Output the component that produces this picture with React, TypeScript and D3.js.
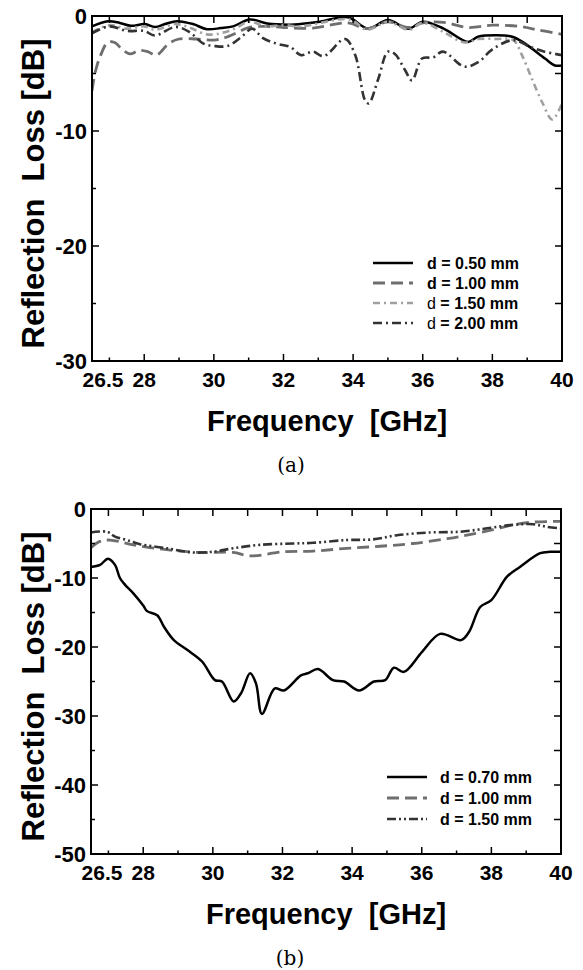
import React from "react";
import * as d3 from "d3";

// ---------- Panel (a) data ----------
const aF050 = [26.5, 26.96, 27.3, 27.62, 28.02, 28.31, 28.6, 28.94, 29.4, 29.8, 30.2, 30.55, 31.04, 31.53, 32.19, 32.48, 33.05, 33.85, 34.43, 35.0, 35.58, 36.01, 36.6, 37.3, 37.59, 38.08, 38.57, 38.94, 39.51, 39.8, 40];
const aV050 = [-0.9, -0.45, -0.6, -0.85, -0.7, -0.95, -0.7, -0.45, -0.7, -1.15, -1.05, -0.9, -0.3, -0.65, -0.75, -0.7, -0.5, -0.1, -1.1, -0.35, -1.1, -0.5, -1.1, -2.25, -1.8, -1.68, -1.8, -2.4, -3.7, -4.3, -4.3];

const aF100 = [26.5, 26.6, 26.75, 26.95, 27.15, 27.4, 27.6, 27.85, 28.1, 28.35, 28.7, 29.0, 29.5, 30.0, 30.3, 30.7, 31.0, 31.5, 32.0, 32.85, 33.85, 34.4, 35.0, 35.6, 36.0, 36.6, 37.3, 38.0, 38.75, 39.3, 40];
const aV100 = [-6.5, -4.8, -3.4, -2.3, -2.3, -3.0, -3.3, -3.0, -3.1, -3.4, -2.4, -2.0, -2.0, -2.1, -1.9, -1.4, -1.0, -0.9, -1.0, -1.05, -0.6, -1.1, -0.5, -1.0, -0.6, -0.55, -1.0, -0.8, -0.9, -1.2, -1.6];

const aF150 = [26.5, 27.0, 27.5, 28.0, 28.3, 28.9, 29.3, 29.8, 30.2, 30.6, 31.0, 31.5, 32.0, 32.5, 33.9, 34.4, 35.0, 35.6, 36.0, 36.6, 37.2, 37.6, 38.1, 38.6, 38.85, 39.14, 39.43, 39.72, 40];
const aV150 = [-1.4, -0.8, -1.1, -0.9, -1.2, -0.7, -1.0, -1.6, -1.5, -1.1, -0.5, -0.9, -0.8, -0.9, -0.3, -1.2, -0.5, -1.2, -0.6, -1.4, -2.3, -2.0, -2.0, -2.1, -3.4, -5.5, -7.5, -9.0, -7.6];

const aF200 = [26.5, 27.0, 27.5, 28.0, 28.3, 28.9, 29.3, 29.7, 30.0, 30.4, 30.8, 31.1, 31.4, 31.8, 32.2, 32.5, 32.85, 33.15, 33.77, 34.06, 34.34, 34.45, 34.72, 35.0, 35.2, 35.49, 35.69, 35.98, 36.3, 36.58, 37.2, 37.6, 38.0, 38.6, 39.1, 39.5, 40];
const aV200 = [-1.5, -0.9, -1.3, -1.3, -1.7, -0.95, -1.4, -2.4, -2.6, -2.6, -1.8, -1.1, -1.9, -2.4, -2.7, -3.4, -3.1, -3.5, -2.0, -3.4, -7.3, -7.6, -5.5, -3.1, -3.3, -4.7, -5.6, -3.7, -3.6, -3.1, -4.4, -4.0, -2.9, -2.1, -2.7, -3.1, -3.4];

// ---------- Panel (b) data ----------
const bF070 = [26.5, 26.76, 26.99, 27.19, 27.33, 27.48, 27.71, 28.0, 28.11, 28.4, 28.6, 28.88, 29.26, 29.69, 30.06, 30.26, 30.6, 30.81, 31.07, 31.24, 31.41, 31.78, 32.04, 32.53, 32.73, 33.02, 33.45, 33.77, 34.2, 34.63, 34.95, 35.2, 35.49, 36.01, 36.53, 37.13, 37.36, 37.68, 38.0, 38.45, 38.82, 39.4, 39.69, 40];
const bV070 = [-8.4, -8.1, -7.2, -8.1, -10.0, -11.0, -12.2, -14.0, -14.8, -15.4, -17.1, -19.0, -20.4, -22.1, -24.8, -25.0, -27.9, -26.7, -23.8, -25.3, -29.7, -26.0, -26.3, -24.1, -23.8, -23.2, -24.8, -25.0, -26.3, -25.0, -24.8, -23.0, -23.6, -20.7, -18.1, -19.0, -17.8, -14.2, -13.2, -9.8, -8.4, -6.4, -6.2, -6.2];

const bF100 = [26.5, 26.76, 27.05, 27.71, 28.68, 29.63, 30.58, 31.07, 32.02, 32.88, 33.85, 34.8, 35.75, 36.73, 37.3, 38.05, 38.62, 39.2, 40];
const bV100 = [-5.6, -4.7, -4.5, -5.2, -5.9, -6.3, -6.3, -6.8, -6.2, -6.1, -5.7, -5.4, -5.0, -4.3, -3.8, -3.0, -2.3, -1.9, -1.8];

const bF150 = [26.5, 26.96, 27.19, 27.53, 27.91, 28.68, 29.43, 30.0, 30.58, 31.35, 32.3, 32.88, 33.85, 34.6, 35.29, 36.24, 37.1, 37.88, 38.62, 39.2, 39.6, 40];
const bV150 = [-3.4, -3.3, -4.0, -4.5, -5.1, -5.7, -6.3, -6.2, -5.7, -5.2, -5.0, -4.9, -4.5, -4.4, -3.8, -3.4, -3.3, -2.8, -2.3, -2.2, -2.6, -2.8];

// ---------- Axis ticks ----------
const xTickVals = [27, 28, 29, 30, 31, 32, 33, 34, 35, 36, 37, 38, 39, 40];
const xLabelVals = [28, 30, 32, 34, 36, 38, 40];
const xStartLabel = "26.5";
const aYTicks = [0, -5, -10, -15, -20, -25, -30];
const aYLabels = [0, -10, -20, -30];
const bYTicks = [0, -5, -10, -15, -20, -25, -30, -35, -40, -45, -50];
const bYLabels = [0, -10, -20, -30, -40, -50];

const FONT = "'Liberation Sans', Arial, sans-serif";

type Series = {
  f: number[];
  v: number[];
  color: string;
  dash: string;
  width: number;
  label: string;
  dRegular?: boolean;
};

type PanelProps = {
  id: string;
  x0: number;
  x1: number;
  y0: number;
  y1: number;
  yMin: number;
  yTicks: number[];
  yLabels: number[];
  series: Series[];
  legLine: [number, number];
  legText: number;
  legRows: number[];
  tag: string;
};

function Panel(p: PanelProps) {
  const xs = d3.scaleLinear().domain([26.5, 40]).range([p.x0, p.x1]);
  const ys = d3.scaleLinear().domain([p.yMin, 0]).range([p.y1, p.y0]);
  const cx = (p.x0 + p.x1) / 2;
  const cy = (p.y0 + p.y1) / 2;
  return (
    <g>
      <defs>
        <clipPath id={p.id}>
          <rect x={p.x0} y={p.y0} width={p.x1 - p.x0} height={p.y1 - p.y0} />
        </clipPath>
      </defs>
      <g clipPath={`url(#${p.id})`}>
        {p.series.map((s, k) => {
          const line = d3
            .line<number>()
            .x((_, i) => xs(s.f[i]))
            .y((d) => ys(d))
            .curve(d3.curveCatmullRom.alpha(0.5));
          return (
            <path
              key={k}
              d={line(s.v) || ""}
              fill="none"
              stroke={s.color}
              strokeWidth={s.width}
              strokeDasharray={s.dash}
              strokeLinejoin="round"
            />
          );
        })}
      </g>
      <rect x={p.x0} y={p.y0} width={p.x1 - p.x0} height={p.y1 - p.y0} fill="none" stroke="#000" strokeWidth={2} />
      {xTickVals.map((t) => {
        const major = t % 2 === 0;
        return (
          <g key={"xt" + t}>
            <line x1={xs(t)} x2={xs(t)} y1={p.y1} y2={p.y1 - (major ? 7 : 3.5)} stroke="#000" strokeWidth={1.5} />
            <line x1={xs(t)} x2={xs(t)} y1={p.y0} y2={p.y0 + 7} stroke="#000" strokeWidth={1.5} />
          </g>
        );
      })}
      {xLabelVals.map((t) => (
        <text key={"xl" + t} x={xs(t)} y={p.y1 + 26} textAnchor="middle" fontFamily={FONT} fontWeight="bold" fontSize={21}>
          {t}
        </text>
      ))}
      <text x={xs(26.5) + 11} y={p.y1 + 26} textAnchor="middle" fontFamily={FONT} fontWeight="bold" fontSize={21}>
        {xStartLabel}
      </text>
      {p.yTicks.map((t) => {
        const major = t % 10 === 0;
        return (
          <g key={"yt" + t}>
            <line x1={p.x0} x2={p.x0 + (major ? 7 : 4)} y1={ys(t)} y2={ys(t)} stroke="#000" strokeWidth={1.5} />
            <line x1={p.x1} x2={p.x1 - 7} y1={ys(t)} y2={ys(t)} stroke="#000" strokeWidth={1.5} />
          </g>
        );
      })}
      {p.yLabels.map((t) => (
        <text key={"yl" + t} x={p.x0 - 5} y={ys(t) + 8} textAnchor="end" fontFamily={FONT} fontWeight="bold" fontSize={22}>
          {t}
        </text>
      ))}
      <text
        transform={`translate(44,${cy + 5}) rotate(-90)`}
        textAnchor="middle"
        fontFamily={FONT}
        fontWeight="bold"
        fontSize={31}
        style={{ whiteSpace: "pre" }}
      >
        {"Reflection  Loss [dB]"}
      </text>
      <text x={cx} y={p.y1 + 70} textAnchor="middle" fontFamily={FONT} fontWeight="bold" fontSize={29} style={{ whiteSpace: "pre" }}>
        {"Frequency  [GHz]"}
      </text>
      <text x={cx - 36} y={p.y1 + 111} textAnchor="middle" fontFamily="'DejaVu Serif', serif" fontSize={20}>
        {p.tag}
      </text>
      {p.series.map((s, k) => (
        <g key={"lg" + k}>
          <line
            x1={p.legLine[0]}
            x2={p.legLine[1]}
            y1={p.legRows[k]}
            y2={p.legRows[k]}
            stroke={s.color}
            strokeWidth={s.width}
            strokeDasharray={s.dash}
          />
          <text x={p.legText} y={p.legRows[k] + 6} fontFamily={FONT} fontWeight="bold" fontSize={16} style={{ whiteSpace: "pre" }}>
            {s.dRegular ? (
              <>
                <tspan fontWeight="normal">d</tspan>
                {" = " + s.label + " mm"}
              </>
            ) : (
              "d = " + s.label + " mm"
            )}
          </text>
        </g>
      ))}
    </g>
  );
}

export default function App() {
  const seriesA: Series[] = [
    { f: aF050, v: aV050, color: "#000", dash: "none", width: 2.5, label: "0.50" },
    { f: aF100, v: aV100, color: "#6e6e6e", dash: "12,6", width: 2.8, label: "1.00" },
    { f: aF150, v: aV150, color: "#a0a0a0", dash: "7,4,2,4", width: 2.6, label: "1.50", dRegular: true },
    { f: aF200, v: aV200, color: "#333", dash: "9,4,2,4", width: 2.6, label: "2.00", dRegular: true },
  ];
  const seriesB: Series[] = [
    { f: bF070, v: bV070, color: "#000", dash: "none", width: 2.5, label: "0.70" },
    { f: bF100, v: bV100, color: "#6e6e6e", dash: "12,6", width: 2.8, label: "1.00" },
    { f: bF150, v: bV150, color: "#333", dash: "9,3,2,3,2,3", width: 2.6, label: "1.50" },
  ];
  return (
    <svg
      width={583}
      height={970}
      viewBox="0 0 583 970"
      style={{ position: "absolute", left: 0, top: 0, background: "#fff" }}
    >
      <rect width={583} height={970} fill="#fff" />
      <Panel
        id="clipA"
        x0={92}
        x1={562}
        y0={16}
        y1={361}
        yMin={-30}
        yTicks={aYTicks}
        yLabels={aYLabels}
        series={seriesA}
        legLine={[373, 413]}
        legText={427}
        legRows={[263, 283, 303, 323]}
        tag="(a)"
      />
      <Panel
        id="clipB"
        x0={91}
        x1={561}
        y0={509}
        y1={854}
        yMin={-50}
        yTicks={bYTicks}
        yLabels={bYLabels}
        series={seriesB}
        legLine={[387, 427]}
        legText={440}
        legRows={[777, 798, 819]}
        tag="(b)"
      />
    </svg>
  );
}
